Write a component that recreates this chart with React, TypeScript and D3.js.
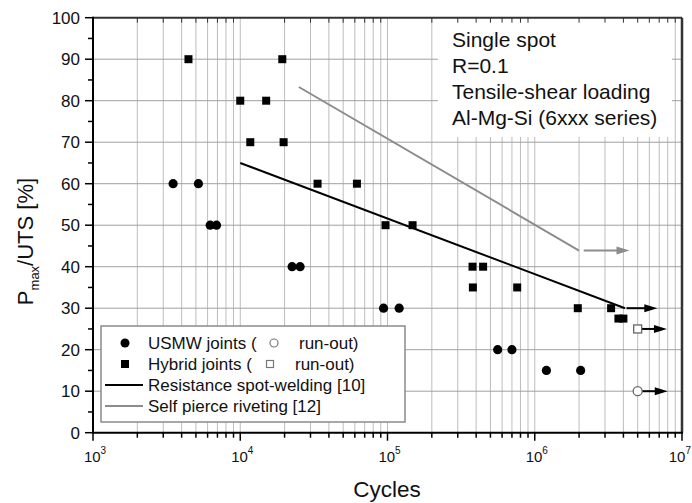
import React from "react";
import * as d3 from "d3";

// ---- data ----
const usmwCycles = [3.5e3, 5.2e3, 6.25e3, 6.9e3, 2.25e4, 2.55e4, 9.4e4, 1.2e5, 5.6e5, 7.0e5, 1.2e6, 2.05e6];
const usmwLoad = [60, 60, 50, 50, 40, 40, 30, 30, 20, 20, 15, 15];
const hybridCycles = [4.45e3, 1.93e4, 1.0e4, 1.5e4, 1.17e4, 1.97e4, 3.35e4, 6.2e4, 9.7e4, 1.48e5, 3.78e5, 4.46e5, 3.8e5, 7.6e5, 1.96e6, 3.3e6, 3.7e6, 4.0e6];
const hybridLoad = [90, 90, 80, 80, 70, 70, 60, 60, 50, 50, 40, 40, 35, 35, 30, 30, 27.5, 27.5];
const usmwRunout = [5e6, 10];
const hybridRunout = [5e6, 25];
const rswLine: [number, number][] = [[1e4, 65], [4.1e6, 30]];
const sprLine: [number, number][] = [[2.5e4, 83.3], [2.0e6, 43.9]];
// run-out arrows: [x0, x1, y]
const arrows: { x0: number; x1: number; y: number; color: string }[] = [
  { x0: 4.2e6, x1: 6.8e6, y: 30, color: "#000" },
  { x0: 2.15e6, x1: 4.4e6, y: 43.9, color: "#8c8c8c" },
  { x0: 5.35e6, x1: 7.9e6, y: 25, color: "#000" },
  { x0: 5.35e6, x1: 8.0e6, y: 10, color: "#000" },
];
const yTicks = [0, 10, 20, 30, 40, 50, 60, 70, 80, 90, 100];
const yMinorTicks = [5, 15, 25, 35, 45, 55, 65, 75, 85, 95];
const xDecades = [3, 4, 5, 6, 7];
const infoLines = ["Single spot", "R=0.1", "Tensile-shear loading", "Al-Mg-Si (6xxx series)"];

const FONT = "'Liberation Sans', Arial, sans-serif";

export default function App() {
  const W = 692, H = 503;
  const L = 93, R = 682, T = 17.7, B = 432.7;
  const x = d3.scaleLog().domain([1e3, 1e7]).range([L, R]);
  const y = d3.scaleLinear().domain([0, 100]).range([B, T]);

  const minorX: number[] = [];
  for (let k = 3; k < 7; k++) for (let m = 2; m <= 9; m++) minorX.push(m * Math.pow(10, k));
  const majorX = xDecades.map((d) => Math.pow(10, d));
  const gridX = [...minorX, ...majorX.slice(1, -1)];

  const line = d3.line<[number, number]>().x((d) => x(d[0])).y((d) => y(d[1]));

  return (
    <svg width={W} height={H} style={{ position: "absolute", left: 0, top: 0, background: "#fff" }} fontFamily={FONT}>
      <rect x={0} y={0} width={W} height={H} fill="#fff" />
      {/* grid */}
      {gridX.map((v, i) => (
        <line key={"gx" + i} x1={x(v)} x2={x(v)} y1={T} y2={B} stroke="#bdbdbd" strokeWidth={1} />
      ))}
      {yTicks.slice(1, -1).map((v) => (
        <line key={"gy" + v} x1={L} x2={R} y1={y(v)} y2={y(v)} stroke="#a0a0a0" strokeWidth={1} />
      ))}
      {/* info box background */}
      <rect x={438} y={T + 1} width={234} height={137 - T - 1} fill="#fff" />
      {infoLines.map((t, i) => (
        <text key={t} x={452} y={47 + i * 26} fontSize={21} fill="#111">{t}</text>
      ))}
      {/* lines */}
      <path d={line(sprLine) || ""} stroke="#8c8c8c" strokeWidth={2} fill="none" />
      <path d={line(rswLine) || ""} stroke="#000" strokeWidth={2} fill="none" />
      {arrows.map((a, i) => {
        const xa = x(a.x0), xb = x(a.x1), ya = y(a.y);
        return (
          <g key={"ar" + i}>
            <line x1={xa} x2={xb - 10} y1={ya} y2={ya} stroke={a.color} strokeWidth={2} />
            <polygon points={`${xb},${ya} ${xb - 13},${ya - 4} ${xb - 13},${ya + 4}`} fill={a.color} />
          </g>
        );
      })}
      {/* points */}
      {usmwCycles.map((c, i) => (
        <circle key={"u" + i} cx={x(c)} cy={y(usmwLoad[i])} r={4.6} fill="#000" />
      ))}
      {hybridCycles.map((c, i) => (
        <rect key={"h" + i} x={x(c) - 4} y={y(hybridLoad[i]) - 4} width={8} height={8} fill="#000" />
      ))}
      <circle cx={x(usmwRunout[0])} cy={y(usmwRunout[1])} r={4.5} fill="#fff" stroke="#666" strokeWidth={1.3} />
      <rect x={x(hybridRunout[0]) - 4} y={y(hybridRunout[1]) - 4} width={8} height={8} fill="#fff" stroke="#666" strokeWidth={1.3} />
      {/* frame */}
      <line x1={L} x2={R} y1={T} y2={T} stroke="#333" strokeWidth={2} />
      <line x1={R} x2={R} y1={T} y2={B} stroke="#333" strokeWidth={2.5} />
      <line x1={L} x2={L} y1={T - 1} y2={B + 1} stroke="#000" strokeWidth={2} />
      <line x1={L - 1} x2={R + 1} y1={B} y2={B} stroke="#000" strokeWidth={2} />
      {/* y ticks */}
      {yTicks.map((v) => (
        <g key={"yt" + v}>
          <line x1={L - 8} x2={L} y1={y(v)} y2={y(v)} stroke="#000" strokeWidth={1.5} />
          <text x={80} y={y(v)} dy="0.36em" textAnchor="end" fontSize={17} fill="#111">{v}</text>
        </g>
      ))}
      {yMinorTicks.map((v) => (
        <line key={"ym" + v} x1={L - 5} x2={L} y1={y(v)} y2={y(v)} stroke="#000" strokeWidth={1.5} />
      ))}
      {/* x ticks */}
      {majorX.map((v, i) => {
        const last = i === majorX.length - 1;
        return (
          <g key={"xt" + v}>
            <line x1={x(v)} x2={x(v)} y1={B} y2={B + 8} stroke="#000" strokeWidth={1.5} />
            <text x={last ? 691 : x(v) + 2} y={462} textAnchor={last ? "end" : "middle"} fontSize={15} fill="#111">
              10<tspan fontSize={10} dy={-8}>{xDecades[i]}</tspan>
            </text>
          </g>
        );
      })}
      {minorX.map((v, i) => (
        <g key={"xm" + i}>
          <line x1={x(v)} x2={x(v)} y1={B} y2={B + 5} stroke="#000" strokeWidth={1.5} />
          <line x1={x(v)} x2={x(v)} y1={T} y2={T + 5} stroke="#333" strokeWidth={1} />
        </g>
      ))}
      {/* axis titles */}
      <text x={387} y={497} textAnchor="middle" fontSize={22.5} fill="#111">Cycles</text>
      <text transform={`translate(33,241.5) rotate(-90)`} textAnchor="middle" fontSize={22} fill="#111">
        P<tspan fontSize={13} dy={6}>max</tspan><tspan dy={-6}>/UTS [%]</tspan>
      </text>
      {/* legend */}
      <rect x={101} y={326} width={304} height={96} fill="#fff" stroke="#8a8a8a" strokeWidth={1.5} />
      <circle cx={125} cy={343} r={4.5} fill="#000" />
      <text x={148} y={343} dy="0.36em" fontSize={17} fill="#111">USMW joints (</text>
      <circle cx={274} cy={343} r={4} fill="#fff" stroke="#777" strokeWidth={1.2} />
      <text x={299} y={343} dy="0.36em" fontSize={17} fill="#111">run-out)</text>
      <rect x={121} y={360} width={8} height={8} fill="#000" />
      <text x={148} y={364} dy="0.36em" fontSize={17} fill="#111">Hybrid joints (</text>
      <rect x={266.5} y={360.5} width={7} height={7} fill="#fff" stroke="#777" strokeWidth={1.2} />
      <text x={295} y={364} dy="0.36em" fontSize={17} fill="#111">run-out)</text>
      <line x1={105} x2={143} y1={385} y2={385} stroke="#000" strokeWidth={2} />
      <text x={148} y={385} dy="0.36em" fontSize={17} fill="#111">Resistance spot-welding [10]</text>
      <line x1={105} x2={143} y1={406} y2={406} stroke="#8c8c8c" strokeWidth={2} />
      <text x={148} y={406} dy="0.36em" fontSize={17} fill="#111">Self pierce riveting [12]</text>
    </svg>
  );
}
